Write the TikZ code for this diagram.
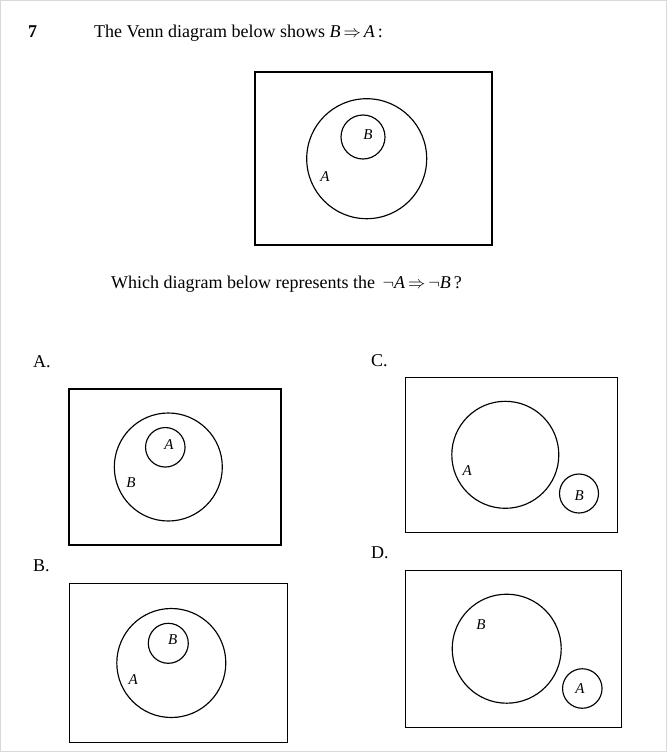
\documentclass[tikz,border=0pt]{standalone}
\usepackage{fontspec}
\setmainfont{Liberation Serif}
\usepackage{tikz}
\usetikzlibrary{positioning}

\begin{document}
\begin{tikzpicture}[
x=1pt,y=-1pt,
frame/.style={draw,line width=1.15pt,inner sep=0pt},
set/.style={draw,circle,line width=1.15pt,inner sep=0pt},
lbl/.style={inner sep=0pt,font=\fontsize{15}{17}\selectfont\itshape},
txt/.style={inner sep=0pt,anchor=base west,font=\fontsize{18}{20}\selectfont}]
\useasboundingbox (0,0) rectangle (667,752);
\draw[gray!30] (0.5,0.5) rectangle (666.5,751.5);
% question
\node[txt,font=\fontsize{18}{20}\selectfont\bfseries] (num) at (28,38) {7};
\node[txt] (stem) at (94,38) {The Venn diagram below shows \textit{B}\,$\Rightarrow$\,\textit{A}\,:};
\node[frame,minimum width=237pt,minimum height=173pt] (given) at (373.5,158.5) {};
\node[set,minimum size=120pt] (givenA) at (366.7,158.7) {};
\node[set,minimum size=44pt] (givenB) at (363,137) {};
\node[lbl] (givenlabB) at (368,135) {B};
\node[lbl] (givenlabA) at (325,177) {A};
\node[txt] (ask) at (111,288) {Which diagram below represents the \,$\neg$\textit{A}\,$\Rightarrow$\,$\neg$\textit{B}\,?};
% option A
\node[txt] (optA) at (33,367) {A.};
\node[frame,minimum width=212pt,minimum height=156pt] (boxA) at (175,467) {};
\node[set,minimum size=108pt] (boxAbig) at (168.3,467) {};
\node[set,minimum size=39.5pt] (boxAsmall) at (165.3,447.3) {};
\node[lbl] (boxAlabA) at (169,445) {A};
\node[lbl] (boxAlabB) at (131,483) {B};
% option B
\node[txt] (optB) at (33,571) {B.};
\node[frame,minimum width=218pt,minimum height=159pt] (boxB) at (178.2,663) {};
\node[set,minimum size=109pt] (boxBbig) at (171.3,663) {};
\node[set,minimum size=40pt] (boxBsmall) at (168.3,643.3) {};
\node[lbl] (boxBlabB) at (172.7,640) {B};
\node[lbl] (boxBlabA) at (133.3,680) {A};
% option C
\node[txt] (optC) at (371,366) {C.};
\node[frame,minimum width=212pt,minimum height=155pt] (boxC) at (511.5,454.8) {};
\node[set,minimum size=107pt] (boxCbig) at (505.3,454.8) {};
\node[set,minimum size=39pt] (boxCsmall) at (579,493.5) {};
\node[lbl] (boxClabA) at (467.3,470.7) {A};
\node[lbl] (boxClabB) at (579.3,495.7) {B};
% option D
\node[txt] (optD) at (371,558.5) {D.};
\node[frame,minimum width=216pt,minimum height=157pt] (boxD) at (513.7,649.2) {};
\node[set,minimum size=109pt] (boxDbig) at (506.7,648.7) {};
\node[set,minimum size=39.5pt] (boxDsmall) at (582.3,688.5) {};
\node[lbl] (boxDlabB) at (481,625) {B};
\node[lbl] (boxDlabA) at (580,688.3) {A};
\end{tikzpicture}
\end{document}
